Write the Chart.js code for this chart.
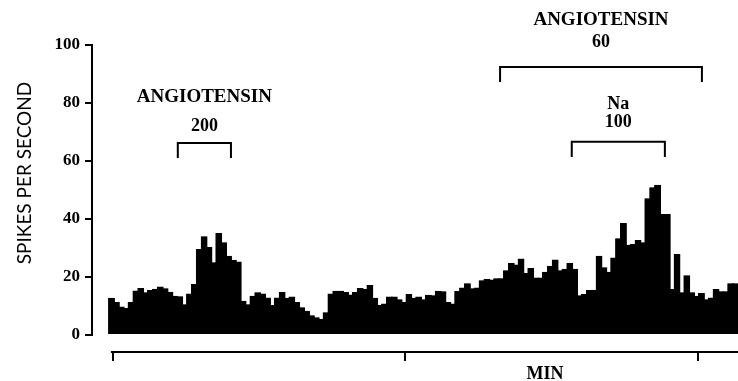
<!DOCTYPE html>
<html><head><meta charset="utf-8">
<script src="https://cdn.jsdelivr.net/npm/chart.js@4"></script>
<style>html,body{margin:0;padding:0;background:#fff}#wrap{width:738px;height:381px;position:relative}</style>
</head><body><div id="wrap"><canvas id="c" width="738" height="381"></canvas></div>
<script>
// Spike rate per 1-second bin (spikes per second)
const spikeRates = [
  12.5, 11, 9.5, 9, 11, 15, 15.9, 14.4, 15.2, 15.6, 16.4, 15.8, 14.6, 13.2, 13, 10.3,
  14, 17.2, 29.3, 33.7, 30, 24.7, 34.8, 31.6, 27, 25.6, 25, 11.5, 10.3, 13.2, 14.4, 14,
  12.6, 10, 12.6, 14.5, 12.5, 12.9, 11, 9.2, 8, 6.5, 5.8, 5.2, 7.5, 14, 14.9, 14.9,
  14.5, 13.6, 14.5, 15.9, 15.5, 16.9, 12.5, 10, 10.5, 12.9, 12.9, 12, 11, 13.8, 12.5, 12.9, 12,
  13.5, 13.4, 14.9, 14.7, 11, 10.5, 14.8, 16, 17.5, 15.8, 16, 18.5, 19, 18.8, 19.2, 19.2,
  22, 24.5, 24, 26, 21, 22.8, 19.5, 19.5, 21.5, 23.5, 25.7, 22, 22.5, 24.5, 22.5, 13.4, 13.8,
  15.2, 15.3, 27, 23, 21.5, 26.4, 33, 38.3, 30.8, 31, 32.4, 31.6, 46.8, 50.6, 51.5, 41.4,
  41.4, 15.5, 27.6, 14.4, 20.3, 14.4, 13.2, 14.1, 12, 12.6, 15.5, 14.7, 14.7, 17.5, 17.5
];
const binStartSec = -0.8;   // time of first bin's left edge (s)
const binWidthSec = 1;
const minuteTicks = [0, 60, 120];   // seconds
const yTicks = [0, 20, 40, 60, 80, 100];
const yTitle = 'SPIKES PER SECOND';
const xTitle = 'MIN';

// Drug application periods (seconds) and their labels
const drugNames = ['ANGIOTENSIN', 'ANGIOTENSIN', 'Na'];
const drugDoses = ['200', '60', '100'];
const drugStarts = [13.3, 79.4, 94.1];
const drugEnds = [24.2, 120.8, 113.2];
</script>
<script>
// layout (value units on the y scale) for the bracket annotations
const bracketLevel = [66.2, 92.4, 66.6];
const bracketLeg = 5.2;
const nameLevel = [82.1, 108.6, 79.7];
const doseLevel = [72.1, 101.0, 73.4];
const SERIF = '"Liberation Serif", serif';

const annot = {
  id: 'annot',
  afterDraw(chart) {
    const ctx = chart.ctx, xs = chart.scales.x, ys = chart.scales.y, ca = chart.chartArea;
    ctx.save();
    ctx.strokeStyle = '#000'; ctx.fillStyle = '#000'; ctx.lineWidth = 2; ctx.lineCap = 'butt';
    // y axis line
    const ax = ys.right;
    ctx.beginPath(); ctx.moveTo(ax, ys.getPixelForValue(100) - 1); ctx.lineTo(ax, ys.getPixelForValue(0) + 1); ctx.stroke();
    // x axis line
    ctx.beginPath(); ctx.moveTo(xs.getPixelForValue(0) - 2, ca.bottom); ctx.lineTo(chart.width, ca.bottom); ctx.stroke();
    // brackets
    for (let i = 0; i < drugNames.length; i++) {
      const x1 = xs.getPixelForValue(drugStarts[i]), x2 = xs.getPixelForValue(drugEnds[i]);
      const yb = ys.getPixelForValue(bracketLevel[i]), yl = ys.getPixelForValue(bracketLevel[i] - bracketLeg);
      ctx.beginPath(); ctx.moveTo(x1, yl); ctx.lineTo(x1, yb); ctx.lineTo(x2, yb); ctx.lineTo(x2, yl); ctx.stroke();
      const cx = (x1 + x2) / 2;
      ctx.textAlign = 'center'; ctx.textBaseline = 'middle';
      ctx.font = 'bold ' + (drugNames[i] === 'Na' ? '18px ' : '19px ') + SERIF;
      ctx.fillText(drugNames[i], cx, ys.getPixelForValue(nameLevel[i]));
      ctx.font = 'bold 18px ' + SERIF;
      ctx.fillText(drugDoses[i], cx, ys.getPixelForValue(doseLevel[i]));
    }
    // x title
    ctx.font = 'bold 18px ' + SERIF;
    ctx.textAlign = 'center'; ctx.textBaseline = 'middle';
    ctx.fillText(xTitle, 545, 374);
    // y title
    ctx.save();
    ctx.translate(25, 173); ctx.rotate(-Math.PI / 2);
    ctx.font = '19px Lato, sans-serif';
    ctx.fillText(yTitle, 0, 0);
    ctx.restore();
    ctx.restore();
  }
};

new Chart(document.getElementById('c'), {
  type: 'bar',
  data: {
    datasets: [{
      data: spikeRates.map((v, i) => ({ x: binStartSec + (i + 0.5) * binWidthSec, y: v })),
      backgroundColor: '#000', borderColor: '#000', borderWidth: 0.5,
      barPercentage: 1, categoryPercentage: 1, inflateAmount: 1
    }]
  },
  options: {
    responsive: false, animation: false,
    layout: { padding: { top: 45, right: 0, bottom: 0, left: 0 } },
    plugins: { legend: { display: false }, tooltip: { enabled: false } },
    scales: {
      x: {
        type: 'linear', min: -4.3, max: 128.2, offset: false,
        afterBuildTicks: s => { s.ticks = minuteTicks.map(v => ({ value: v })); },
        afterFit: s => { s.height = 29; },
        grid: { offset: false, drawOnChartArea: false, drawTicks: true, tickLength: 9, color: '#000', lineWidth: 2 },
        border: { display: false },
        ticks: { callback: () => '', padding: 0 }
      },
      y: {
        min: -5.86, max: 100,
        afterBuildTicks: s => { s.ticks = yTicks.map(v => ({ value: v })); },
        afterFit: s => { s.width = 92; },
        grid: { drawOnChartArea: false, drawTicks: true, tickLength: 7, color: '#000', lineWidth: 2 },
        border: { display: false },
        ticks: { color: '#000', padding: 5, font: { family: SERIF, size: 17, weight: 'bold' } }
      }
    }
  },
  plugins: [annot]
});
</script>
</body></html>
